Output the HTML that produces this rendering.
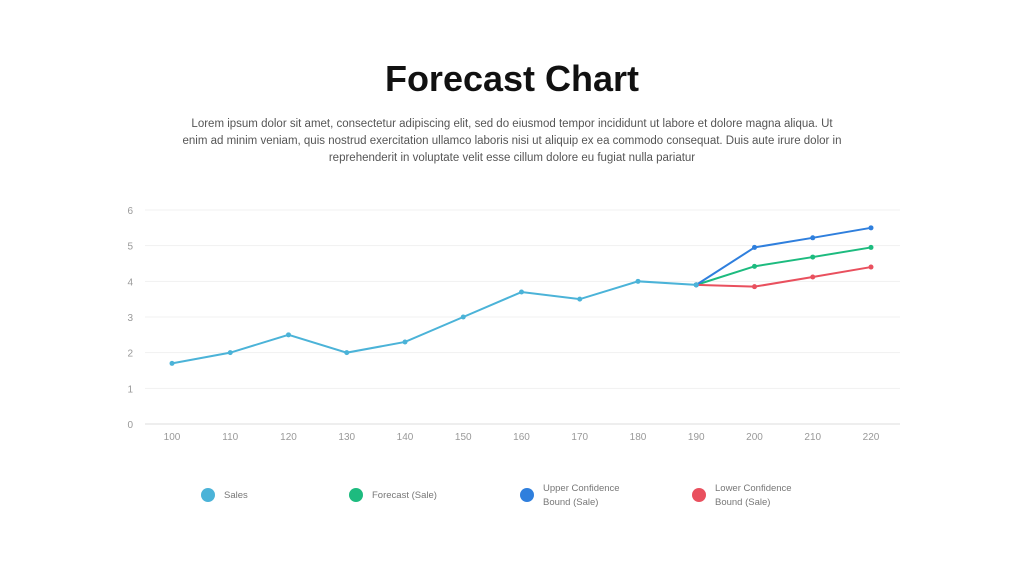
<!DOCTYPE html>
<html><head><meta charset="utf-8"><style>
body{margin:0;width:1024px;height:576px;background:#fff;font-family:"Liberation Sans",sans-serif;overflow:hidden;position:relative}
h1{position:absolute;top:58px;left:0;width:1024px;text-align:center;margin:0;font-size:36px;font-weight:bold;color:#111}
p.sub{position:absolute;top:116px;left:180px;width:664px;text-align:center;margin:0;font-size:11.5px;line-height:17px;color:#555}
svg{position:absolute;left:0;top:0}
</style></head><body>
<h1>Forecast Chart</h1>
<p class="sub">Lorem ipsum dolor sit amet, consectetur adipiscing elit, sed do eiusmod tempor incididunt ut labore et dolore magna aliqua. Ut enim ad minim veniam, quis nostrud exercitation ullamco laboris nisi ut aliquip ex ea commodo consequat. Duis aute irure dolor in reprehenderit in voluptate velit esse cillum dolore eu fugiat nulla pariatur</p>
<svg id="chart" width="1024" height="576"></svg>
<script>
const categories=[100,110,120,130,140,150,160,170,180,190,200,210,220];
const yTicks=[0,1,2,3,4,5,6];
const sales=[1.7,2,2.5,2,2.3,3,3.7,3.5,4,3.9];
const forecast=[3.9,4.42,4.68,4.95];
const upper=[3.9,4.95,5.22,5.5];
const lower=[3.9,3.85,4.12,4.4];
const legendLabels=[["Sales"],["Forecast (Sale)"],["Upper Confidence","Bound (Sale)"],["Lower Confidence","Bound (Sale)"]];
const colors=["#4bb3d8","#1dbb7f","#2f7fdd","#e9505e"];
const NS="http://www.w3.org/2000/svg",svg=document.getElementById('chart');
const X0=172,XS=58.25,Y0=424,YS=35.67;
const x=i=>X0+i*XS, y=v=>Y0-v*YS;
function el(t,a,p){const e=document.createElementNS(NS,t);for(const k in a)e.setAttribute(k,a[k]);(p||svg).appendChild(e);return e;}
yTicks.forEach(v=>{
 const g=el('line',{x1:145,x2:900,y1:y(v),y2:y(v),stroke:v===0?'#ddd':'#f1f1f1','stroke-width':1});
 
 
 const t=el('text',{x:133,y:y(v)+4,'font-size':10,fill:'#999','text-anchor':'end'});t.textContent=v;
 
 
});
categories.forEach((c,i)=>{
 const t=el('text',{x:x(i),y:440,'font-size':10,fill:'#999','text-anchor':'middle'});t.textContent=c;
 
 
});
function series(vals,off,col,name){
 const pts=vals.map((v,i)=>x(i+off)+','+y(v)).join(' ');
 const l=el('polyline',{points:pts,fill:'none',stroke:col,'stroke-width':2});
 
 
 vals.forEach((v,i)=>{const c=el('circle',{cx:x(i+off),cy:y(v),r:2.5,fill:col});
 
 });
}
series(forecast,9,colors[1],'forecast');
series(lower,9,colors[3],'lower-bound');
series(upper,9,colors[2],'upper-bound');
series(sales,0,colors[0],'sales');
const lx=[208,356,527,699];
legendLabels.forEach((lab,i)=>{
 const g=el('g',{});
 
 
 el('circle',{cx:lx[i],cy:495,r:7,fill:colors[i]},g);
 lab.forEach((s,j)=>{const t=el('text',{x:lx[i]+16,y:lab.length===1?498:491+j*14,'font-size':9.5,fill:'#777'},g);t.textContent=s;});
});
</script>
</body></html>
